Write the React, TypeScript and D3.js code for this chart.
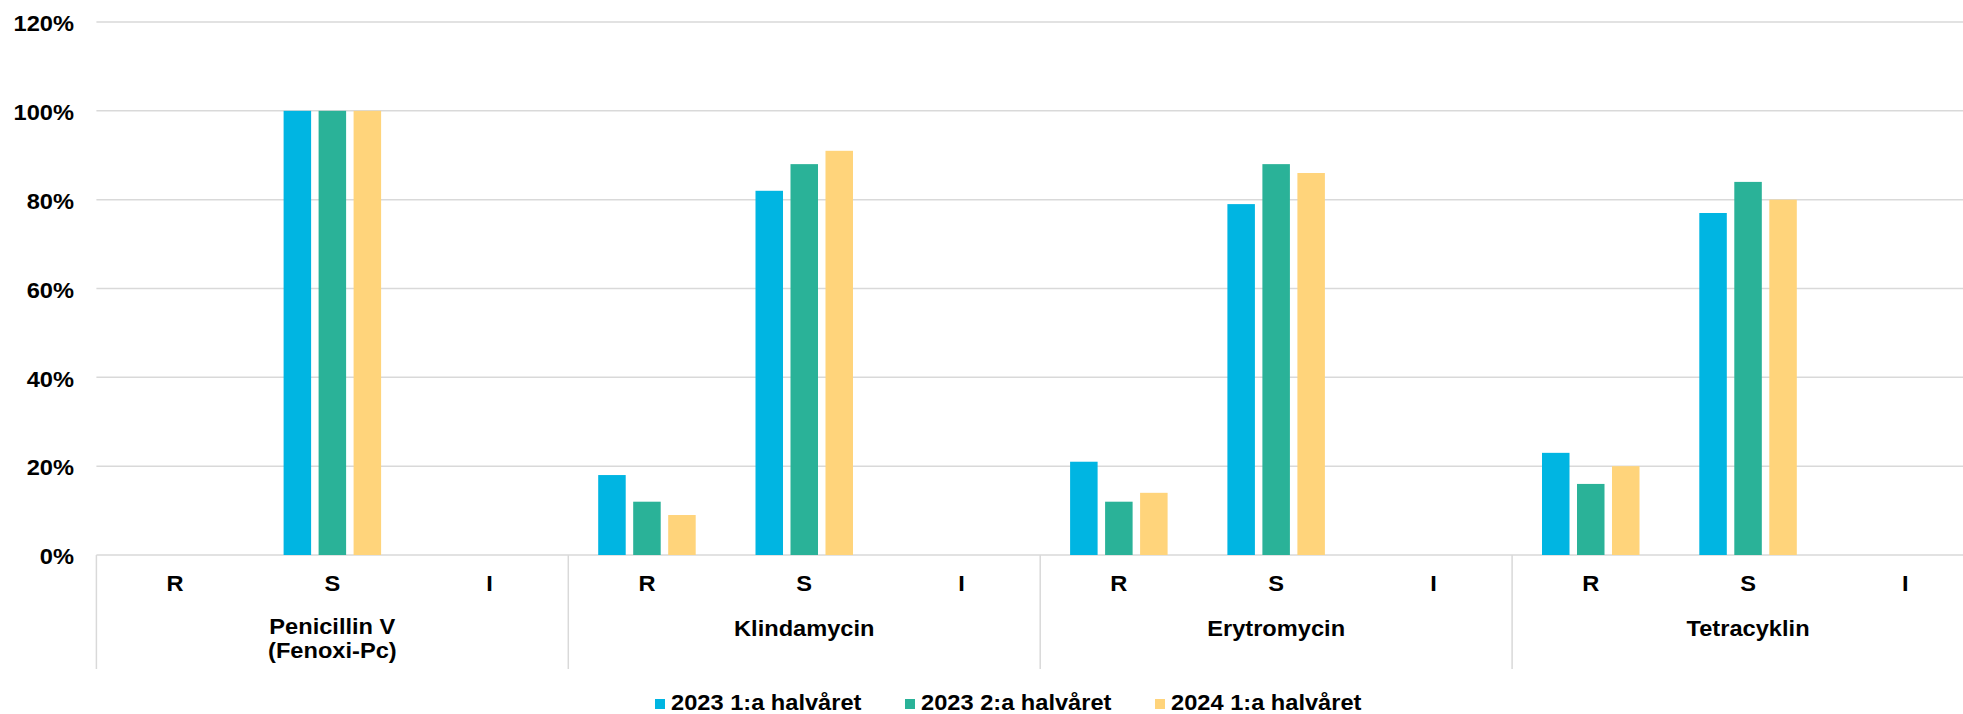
import React from "react";
import * as d3 from "d3";

const groupLabels: string[][] = [["Penicillin V", "(Fenoxi-Pc)"], ["Klindamycin"], ["Erytromycin"], ["Tetracyklin"]];
const subCategories = ["R", "S", "I"];
const seriesNames = ["2023 1:a halvåret", "2023 2:a halvåret", "2024 1:a halvåret"];
const seriesColors = ["#00B5E2", "#2AB298", "#FFD47B"];
const series2023H1 = [0, 1.0, 0, 0.18, 0.82, 0, 0.21, 0.79, 0, 0.23, 0.77, 0];
const series2023H2 = [0, 1.0, 0, 0.12, 0.88, 0, 0.12, 0.88, 0, 0.16, 0.84, 0];
const series2024H1 = [0, 1.0, 0, 0.09, 0.91, 0, 0.14, 0.86, 0, 0.2, 0.8, 0];
const yTicks = [0, 0.2, 0.4, 0.6, 0.8, 1.0, 1.2];

const W = 1963;
const H = 714;
const FONT = "'Liberation Sans', Arial, sans-serif";
const SX = 1.06;
const FS = 22.3;

export default function App() {
  const allSeries = [series2023H1, series2023H2, series2024H1];
  const cats: string[] = [];
  groupLabels.forEach((_, g) => subCategories.forEach((s) => cats.push(`${g}-${s}`)));
  const catW = 157.3;
  const left = 96.4;
  const x0 = d3.scaleBand<string>().domain(cats).range([left, left + catW * cats.length]).padding(0);
  const x1 = d3.scaleBand<string>().domain(seriesNames).range([-48.75, 48.75]).paddingInner(0.214).paddingOuter(0);
  const y = d3.scaleLinear().domain([0, 1.2]).range([555, 22]);
  const fmt = d3.format(".0%");

  const T = (x: number, yy: number, text: string, anchor: string, key?: any) => (
    <g key={key} transform={`translate(${x},${yy}) scale(${SX},1)`}>
      <text textAnchor={anchor as any} fontFamily={FONT} fontWeight="bold" fontSize={FS} fill="#000">
        {text}
      </text>
    </g>
  );

  return (
    <>
      <style>{`body{margin:0}`}</style>
      <svg width={W} height={H} style={{ display: "block", overflow: "hidden", background: "#fff" }}>
        {yTicks.map((t) => (
          <g key={t}>
            <line x1={left} x2={W} y1={y(t)} y2={y(t)} stroke="#D9D9D9" strokeWidth={1.5} />
            {T(74, y(t) + 9.3, fmt(t), "end")}
          </g>
        ))}
        {groupLabels.map((_, g) => {
          const xs = x0(cats[g * 3])!;
          return <line key={g} x1={xs} x2={xs} y1={555} y2={669} stroke="#D9D9D9" strokeWidth={1.5} />;
        })}
        {allSeries.map((vals, si) =>
          vals.map((v, ci) => {
            if (!v) return null;
            const cx = x0(cats[ci])! + x0.bandwidth() / 2;
            return (
              <rect
                key={`${si}-${ci}`}
                x={cx + x1(seriesNames[si])!}
                y={y(v)}
                width={x1.bandwidth()}
                height={y(0) - y(v)}
                fill={seriesColors[si]}
              />
            );
          })
        )}
        {cats.map((c, ci) => {
          const cx = x0(c)! + x0.bandwidth() / 2;
          return T(cx, 591, subCategories[ci % 3], "middle", c);
        })}
        {groupLabels.map((_, g) => {
          const lines = groupLabels[g];
          const cx = x0(cats[g * 3 + 1])! + x0.bandwidth() / 2;
          const base = lines.length > 1 ? 634 : 636;
          return lines.map((ln, li) => T(cx, base + li * 24, ln, "middle", `${g}-${li}`));
        })}
        {seriesNames.map((name, i) => {
          const lx = 655 + i * 250;
          return (
            <g key={name}>
              <rect x={lx} y={699} width={10} height={10} fill={seriesColors[i]} />
              {T(lx + 16, 710, name, "start")}
            </g>
          );
        })}
      </svg>
    </>
  );
}
